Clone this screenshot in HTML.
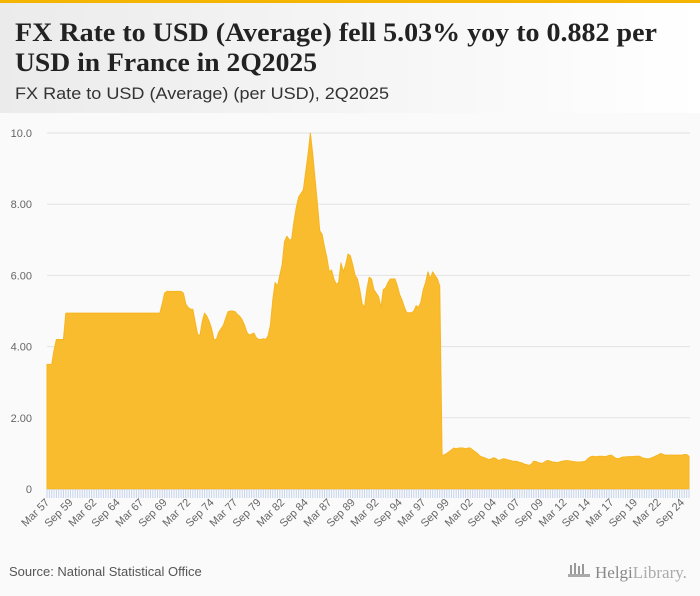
<!DOCTYPE html>
<html><head><meta charset="utf-8"><style>
html,body{margin:0;padding:0;width:700px;height:596px;overflow:hidden;background:#fafafa;font-family:"Liberation Sans",sans-serif}
</style></head><body>
<svg id="chart" width="700" height="596" viewBox="0 0 700 596" xmlns="http://www.w3.org/2000/svg">
<defs><linearGradient id="hg" x1="0" x2="1" y1="0" y2="0"><stop offset="0" stop-color="#ebebeb"/><stop offset="1" stop-color="#ffffff"/></linearGradient></defs>
<rect x="0" y="0" width="700" height="596" fill="#fafafa"/>
<rect x="0" y="3" width="700" height="110" fill="url(#hg)"/>
<rect x="0" y="0" width="700" height="3" fill="#f5b400"/>
<text x="15" y="41" font-family="Liberation Serif, serif" font-weight="bold" font-size="26" fill="#222" textLength="642" lengthAdjust="spacingAndGlyphs">FX Rate to USD (Average) fell 5.03% yoy to 0.882 per</text>
<text x="15" y="71" font-family="Liberation Serif, serif" font-weight="bold" font-size="26" fill="#222" textLength="302" lengthAdjust="spacingAndGlyphs">USD in France in 2Q2025</text>
<text x="15" y="99" font-size="17" fill="#333" textLength="374" lengthAdjust="spacingAndGlyphs">FX Rate to USD (Average) (per USD), 2Q2025</text>
<g id="grid"></g>
<g id="yaxis"></g>
<g id="series"></g>
<g id="xaxis"></g>
<text x="9" y="576" font-size="13" fill="#555">Source: National Statistical Office</text>
<g>
<rect x="570" y="565" width="2" height="9" fill="#999"/><rect x="574" y="563" width="2" height="11" fill="#999"/><rect x="578" y="566" width="2" height="8" fill="#999"/><rect x="582" y="564" width="2" height="10" fill="#999"/><rect x="568" y="574" width="22" height="3" fill="#aaa"/>
<text x="595" y="578" font-family="Liberation Serif, serif" font-size="17" fill="#888">Helgi<tspan fill="#aaa">Library.</tspan></text>
</g>
</svg>
<script>
const startYear = 1957;
const values = [
3.5,3.5,3.5,3.9, 4.2,4.2,4.2,4.2,
4.94,4.94,4.94,4.94, 4.94,4.94,4.94,4.94, 4.94,4.94,4.94,4.94, 4.94,4.94,4.94,4.94, 4.94,4.94,4.94,4.94,
4.94,4.94,4.94,4.94, 4.94,4.94,4.94,4.94, 4.94,4.94,4.94,4.94, 4.94,4.94,4.94,4.94, 4.94,4.94,4.94,4.94,
4.94,5.2,5.5,5.55, 5.55,5.55,5.55,5.55, 5.55,5.55,5.5,5.2,
5.1,5.05,5.05,4.7, 4.35,4.3,4.7,4.94, 4.85,4.7,4.5,4.2, 4.2,4.4,4.5,4.6,
4.8,4.98,5.0,5.0, 4.98,4.9,4.85,4.75, 4.6,4.4,4.32,4.35, 4.38,4.25,4.2,4.2,
4.22,4.2,4.3,4.6, 5.3,5.8,5.7,6.0, 6.3,6.95,7.1,7.0, 7.0,7.5,7.9,8.2,
8.3,8.4,8.9,9.4, 10.0,9.4,8.7,8.0, 7.25,7.15,6.8,6.5, 6.1,6.15,5.9,5.75,
5.8,6.35,6.1,6.3, 6.6,6.55,6.3,6.0, 5.9,5.6,5.2,5.1, 5.6,5.95,5.9,5.6,
5.5,5.4,5.1,5.6, 5.65,5.8,5.9,5.9, 5.9,5.7,5.45,5.3, 5.1,4.95,4.95,4.95,
5.0,5.15,5.1,5.25, 5.6,5.8,6.1,5.9, 6.1,6.0,5.9,5.7,
0.95,0.96,1.0,1.05, 1.1,1.15,1.13,1.15, 1.15,1.15,1.13,1.15, 1.15,1.1,1.05,1.0,
0.93,0.9,0.88,0.85, 0.82,0.85,0.88,0.85, 0.8,0.82,0.85,0.84, 0.82,0.8,0.78,0.78,
0.77,0.75,0.73,0.7, 0.68,0.66,0.7,0.78, 0.77,0.74,0.72,0.73, 0.78,0.8,0.78,0.76,
0.75,0.74,0.76,0.78, 0.79,0.8,0.79,0.78, 0.77,0.76,0.76,0.76, 0.77,0.78,0.85,0.9,
0.92,0.91,0.91,0.92, 0.92,0.91,0.92,0.94, 0.95,0.9,0.86,0.85, 0.88,0.9,0.9,0.91,
0.91,0.91,0.92,0.92, 0.92,0.88,0.86,0.85, 0.85,0.87,0.9,0.93, 0.96,1.0,0.97,0.95,
0.95,0.95,0.95,0.95, 0.95,0.95,0.95,0.97, 0.97,0.92
];
const yTicks = [0, 2, 4, 6, 8, 10];
const yTickLabels = ["0", "2.00", "4.00", "6.00", "8.00", "10.0"];
const monthNames = ["Mar", "Jun", "Sep", "Dec"];

const NS = "http://www.w3.org/2000/svg";
const X0 = 47, X1 = 689, Y0 = 489, Y1 = 133;
const n = values.length;
function xs(i){ return X0 + (X1 - X0) * i / (n - 1); }
function ys(v){ return Y0 - (Y0 - Y1) * v / 10; }
function mk(tag, attrs, parent){ const e = document.createElementNS(NS, tag); for (const k in attrs) e.setAttribute(k, attrs[k]); parent.appendChild(e); return e; }

const grid = document.getElementById('grid'), yaxis = document.getElementById('yaxis'), series = document.getElementById('series'), xaxis = document.getElementById('xaxis');
yTicks.forEach((t, i) => {
  if (t > 0) {
    const g = mk('line', {x1: X0, x2: 690, y1: ys(t), y2: ys(t), stroke: '#e3e3e3', 'stroke-width': 1}, grid);
    
    
  }
  const lb = mk('text', {x: 32, y: ys(t) + 4, 'text-anchor': 'end', 'font-size': 11, fill: '#666'}, yaxis);
  lb.textContent = yTickLabels[i];
  
  
});

let d = 'M' + xs(0) + ',' + Y0;
values.forEach((v, i) => { d += ' L' + xs(i).toFixed(2) + ',' + ys(v).toFixed(2); });
d += ' L' + xs(n - 1) + ',' + Y0 + ' Z';
const area = mk('path', {d: d, fill: '#f9bc2e', stroke: '#f7b520', 'stroke-width': 1, 'stroke-linejoin': 'round'}, series);



for (let i = 0; i < n; i++) {
  const tk = mk('line', {x1: xs(i), x2: xs(i), y1: Y0, y2: Y0 + 9, stroke: '#c6d3ec', 'stroke-width': 1}, xaxis);
  
  
  if (i % 10 === 0) {
    const yr = startYear + Math.floor(i / 4);
    const label = monthNames[i % 4] + ' ' + String(yr % 100).padStart(2, '0');
    const x = xs(i) + 3, y = Y0 + 14;
    const t = mk('text', {x: x, y: y, 'text-anchor': 'end', 'font-size': 11, fill: '#666', transform: 'rotate(-45 ' + x + ' ' + y + ')'}, xaxis);
    t.textContent = label;
    
    
  }
}
</script>
</body></html>
